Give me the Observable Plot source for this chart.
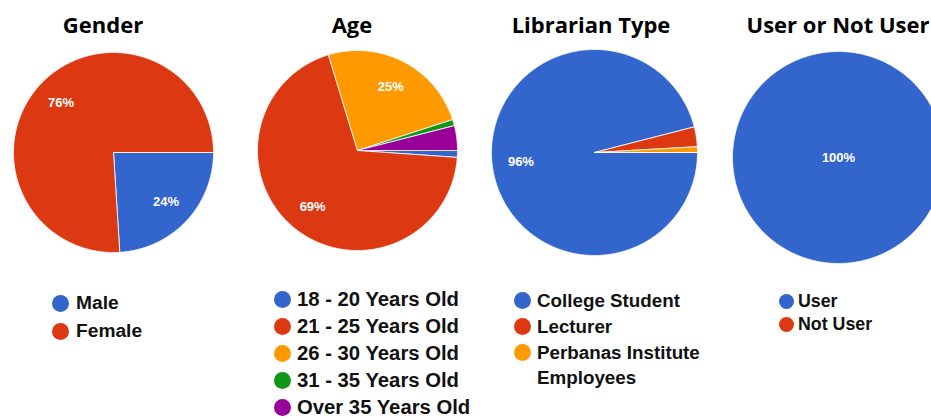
<!DOCTYPE html>
<html><head><meta charset="utf-8">
<script src="https://cdn.jsdelivr.net/npm/d3@7"></script>
<script src="https://cdn.jsdelivr.net/npm/@observablehq/plot@0.6"></script>
<style>
body{margin:0;background:#fff;}
#root{position:relative;width:931px;height:419px;overflow:hidden;background:#fff;}
.title{position:absolute;font-family:"Open Sans",sans-serif;font-weight:700;font-size:22px;line-height:22px;color:#000;transform:translateX(-50%);white-space:nowrap;}
.pie{position:absolute;}
.legend{position:absolute;font-family:"Liberation Sans",Arial,sans-serif;font-weight:700;color:#111;}
.row{display:flex;align-items:flex-start;}
.dot{border-radius:50%;flex:none;}
</style></head><body><div id="root"></div>
<script>
const titles = ["Gender", "Age", "Librarian Type", "User or Not User"];
const genderLabels = ["Male", "Female"];
const genderValues = [24, 76];
const ageLabels = ["18 - 20 Years Old", "21 - 25 Years Old", "26 - 30 Years Old", "31 - 35 Years Old", "Over 35 Years Old"];
const ageValues = [1.1, 69.2, 24.7, 1.0, 4.0];
const typeLabels = ["College Student", "Lecturer", "Perbanas Institute Employees"];
const typeValues = [96.0, 3.1, 0.9];
const userLabels = ["User", "Not User"];
const userValues = [100, 0];
const palette = ["#3366cc", "#dc3912", "#ff9900", "#109618", "#990099"];

const root = document.getElementById("root");

function piePlot(values, r) {
  const total = d3.sum(values);
  const arcs = d3.pie().sort(null).startAngle(Math.PI / 2).endAngle(Math.PI / 2 + 2 * Math.PI)(values);
  const marks = [];
  const labs = [];
  arcs.forEach((a, i) => {
    if (a.value <= 0) return;
    const span = a.endAngle - a.startAngle;
    const full = span >= 2 * Math.PI - 1e-6;
    const n = Math.max(2, Math.ceil(span / (Math.PI / 360)));
    const pts = [];
    if (!full) pts.push({x: 0, y: 0});
    for (let k = 0; k <= n; k++) {
      const t = a.startAngle + span * k / n;
      pts.push({x: Math.sin(t), y: Math.cos(t)});
    }
    if (!full) pts.push({x: 0, y: 0});
    marks.push(Plot.line(pts, {x: "x", y: "y", fill: palette[i], stroke: "#ffffff", strokeWidth: 1, strokeOpacity: 0.8, strokeLinejoin: "round"}));
    if (a.value / total >= 0.05) {
      const m = (a.startAngle + a.endAngle) / 2;
      const k = full ? 0 : 0.72;
      labs.push({x: k * Math.sin(m), y: k * Math.cos(m), t: Math.round(a.value / total * 100) + "%"});
    }
  });
  marks.push(Plot.text(labs, {x: "x", y: "y", text: "t", fill: "white", fontSize: 13, fontWeight: "bold", fontFamily: "Liberation Sans, Arial, sans-serif"}));
  return Plot.plot({
    width: 2 * r + 4, height: 2 * r + 4, margin: 2,
    x: {domain: [-1, 1], axis: null},
    y: {domain: [-1, 1], axis: null},
    marks
  });
}

function addTitle(text, cx, top) {
  const d = document.createElement("div");
  d.className = "title";
  d.textContent = text;
  d.style.left = cx + "px";
  d.style.top = top + "px";
  root.appendChild(d);
}

function addPie(values, cx, cy, r) {
  const svg = piePlot(values, r);
  svg.classList.add("pie");
  svg.style.left = (cx - r - 2) + "px";
  svg.style.top = (cy - r - 2) + "px";
  svg.style.background = "transparent";
  root.appendChild(svg);
}

function addLegend(labels, dotCx, firstCy, rowH, fontSize, dotD, textX, maxW) {
  const box = document.createElement("div");
  box.className = "legend";
  box.style.left = (dotCx - dotD / 2) + "px";
  box.style.top = (firstCy - rowH / 2) + "px";
  box.style.fontSize = fontSize + "px";
  box.style.lineHeight = rowH + "px";
  labels.forEach((lab, i) => {
    const row = document.createElement("div");
    row.className = "row";
    const dot = document.createElement("span");
    dot.className = "dot";
    dot.style.width = dotD + "px";
    dot.style.height = dotD + "px";
    dot.style.background = palette[i];
    dot.style.marginTop = ((rowH - dotD) / 2) + "px";
    dot.style.marginRight = (textX - (dotCx + dotD / 2)) + "px";
    const tx = document.createElement("span");
    tx.textContent = lab;
    if (maxW) tx.style.maxWidth = maxW + "px";
    row.appendChild(dot);
    row.appendChild(tx);
    box.appendChild(row);
  });
  root.appendChild(box);
}

addTitle(titles[0], 103, 12.5);
addTitle(titles[1], 352, 12.5);
addTitle(titles[2], 591, 12.5);
addTitle(titles[3], 838, 12.5);

addPie(genderValues, 113, 152, 100);
addPie(ageValues, 357, 150, 100);
addPie(typeValues, 594, 152, 103);
addPie(userValues, 838, 157, 106);

addLegend(genderLabels, 60, 303, 28, 19.2, 17, 76);
addLegend(ageLabels, 282, 299, 27, 20.3, 17, 297);
addLegend(typeLabels, 522, 301, 25.7, 18.8, 17, 537, 172);
addLegend(userLabels, 786, 301, 23, 17.8, 15, 798);
</script>
</body></html>
